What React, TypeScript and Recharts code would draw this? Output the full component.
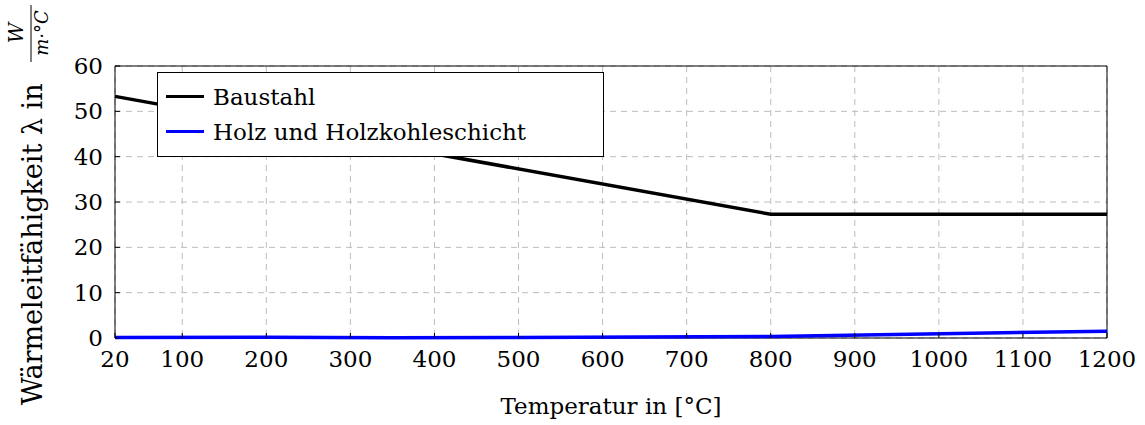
import React from 'react';
import {
    LineChart, Line, XAxis, YAxis, CartesianGrid, ReferenceArea, Label
} from 'recharts';

if (typeof document !== 'undefined') {
    document.body.style.margin = '0';
}

// Baustahl (EN 1993-1-2)
const steelTemp = [20, 800, 1200];
const steelLambda = [53.3, 27.3, 27.3];

// Holz und Holzkohleschicht (EN 1995-1-2)
const woodTemp = [20, 200, 350, 500, 800, 1200];
const woodLambda = [0.12, 0.15, 0.07, 0.09, 0.35, 1.5];

const xTicks = [20, 100, 200, 300, 400, 500, 600, 700, 800, 900, 1000, 1100, 1200];
const yTicks = [0, 10, 20, 30, 40, 50, 60];

const steelData = steelTemp.map((t, i) => ({ t, v: steelLambda[i] }));
const woodData = woodTemp.map((t, i) => ({ t, v: woodLambda[i] }));

const FONT = '"DejaVu Serif", serif';

const YLabel = () => (
    <g transform="rotate(-90)" fontFamily={FONT} fill="#000">
        <text x={-405} y={42} fontSize={27}>Wärmeleitfähigkeit λ in</text>
        <text x={-33} y={23} fontSize={20} fontStyle="italic" textAnchor="middle">W</text>
        <line x1={-62} x2={-5} y1={31} y2={31} stroke="#000" strokeWidth={1} />
        <text x={-33} y={48} fontSize={18} fontStyle="italic" textAnchor="middle">m·°C</text>
    </g>
);

const LegendBox = () => (
    <div style={{
        position: 'absolute', left: 157, top: 72, width: 447, height: 85,
        border: '1px solid #000', background: '#fff', boxSizing: 'border-box',
        fontFamily: FONT, fontSize: 23, padding: '6px 8px'
    }}>
        {[['Baustahl', '#000'], ['Holz und Holzkohleschicht', '#0000ff']].map(([name, c]) => (
            <div key={name} style={{ display: 'flex', alignItems: 'center', height: 35 }}>
                <span style={{ display: 'inline-block', width: 38, height: 3, background: c, marginRight: 9 }} />
                <span>{name}</span>
            </div>
        ))}
    </div>
);

export default function App() {
    return (
        <div style={{ position: 'relative', width: 1145, height: 425, background: '#fff' }}>
            <LineChart width={1145} height={425} margin={{ top: 66, right: 38, bottom: 7, left: 0 }}>
                <CartesianGrid stroke="#bdbdbd" strokeDasharray="6 5" strokeWidth={1} />
                <XAxis
                    type="number" dataKey="t" domain={[20, 1200]} ticks={xTicks} allowDuplicatedCategory={false}
                    height={80} axisLine={false} tickSize={-5} tickMargin={18} tickLine={{ stroke: '#000' }}
                    tick={{ fill: '#000', fontFamily: FONT, fontSize: 23 }} interval={0}
                >
                    <Label value="Temperatur in [°C]" position="insideBottom" offset={4}
                        style={{ fill: '#000', fontFamily: FONT, fontSize: 23 }} />
                </XAxis>
                <YAxis
                    type="number" domain={[0, 60]} ticks={yTicks} width={115}
                    axisLine={false} tickSize={-5} tickMargin={17} tickLine={{ stroke: '#000' }}
                    tick={{ fill: '#000', fontFamily: FONT, fontSize: 23 }} interval={0}
                    label={{ content: () => <YLabel /> }}
                />
                <ReferenceArea x1={20} x2={1200} y1={0} y2={60} fill="none" stroke="#000" strokeWidth={1} ifOverflow="visible" />
                <Line data={woodData} dataKey="v" name="Holz und Holzkohleschicht" stroke="#0000ff" strokeWidth={3.5}
                    dot={false} isAnimationActive={false} />
                <Line data={steelData} dataKey="v" name="Baustahl" stroke="#000" strokeWidth={3.5}
                    dot={false} isAnimationActive={false} />
            </LineChart>
            <LegendBox />
        </div>
    );
}
